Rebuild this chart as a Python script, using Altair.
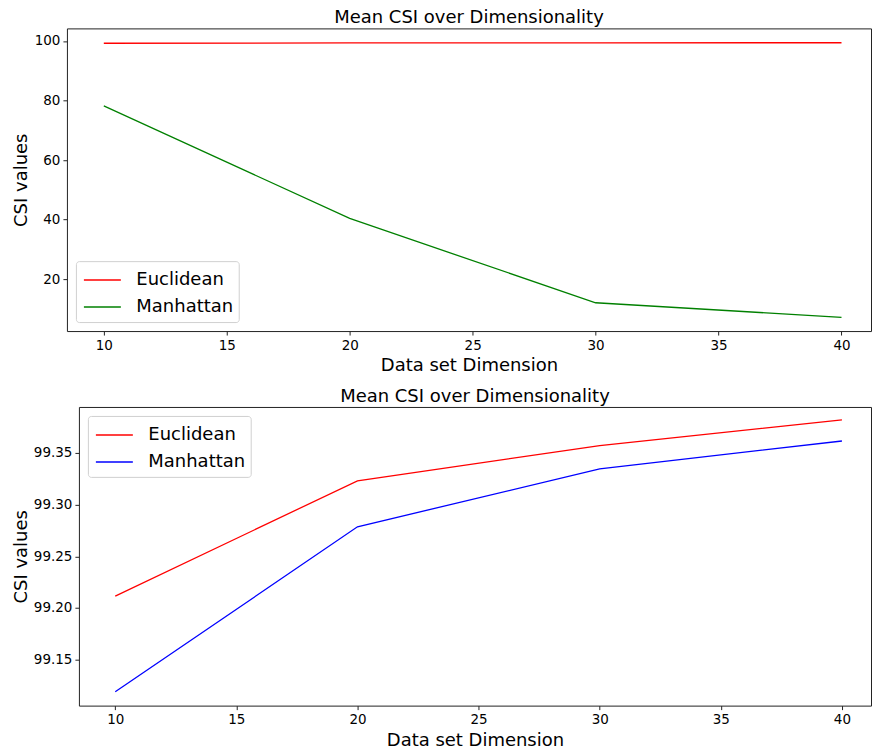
import altair as alt
import pandas as pd

dims = [10, 20, 30, 40]
series = ["Euclidean", "Manhattan"]

top_euclidean = [99.211, 99.323, 99.357, 99.382]
top_manhattan = [78.2, 40.4, 12.1, 7.2]

bot_euclidean = [99.2115, 99.323, 99.357, 99.382]
bot_manhattan = [99.119, 99.2785, 99.3345, 99.3615]

x_ticks = [10, 15, 20, 25, 30, 35, 40]
top_y_ticks = [20, 40, 60, 80, 100]
bot_y_ticks = [99.15, 99.20, 99.25, 99.30, 99.35]

title_text = "Mean CSI over Dimensionality"
x_title = "Data set Dimension"
y_title = "CSI values"

FONT = "DejaVu Sans"


def make_df(a, b):
    rows = []
    for d, v in zip(dims, a):
        rows.append({"dim": d, "value": v, "series": series[0]})
    for d, v in zip(dims, b):
        rows.append({"dim": d, "value": v, "series": series[1]})
    return pd.DataFrame(rows)


def panel(df, ydomain, yticks, yfmt, yext, colors, w, h, lx, ly):
    axis_common = dict(
        labelFontSize=13.5, labelFont=FONT, labelColor="#000",
        titleFontSize=18, titleFont=FONT, titleFontWeight="normal", titleColor="#000",
        tickSize=4, tickColor="#222", domain=False, grid=False, labelPadding=3,
    )
    return alt.Chart(df).mark_line(strokeWidth=1.3).encode(
        x=alt.X("dim:Q", scale=alt.Scale(domain=[8.5, 41.2], nice=False, zero=False),
                axis=alt.Axis(values=x_ticks, format="d", title=x_title, titlePadding=5,
                              labelFlush=False, **axis_common)),
        y=alt.Y("value:Q", scale=alt.Scale(domain=ydomain, nice=False, zero=False),
                axis=alt.Axis(values=yticks, format=yfmt, title=y_title, titlePadding=4,
                              minExtent=yext, maxExtent=yext, **axis_common)),
        color=alt.Color("series:N", scale=alt.Scale(domain=series, range=colors),
                        legend=alt.Legend(
                            title=None, orient="none", legendX=lx, legendY=ly,
                            symbolType="M-0.88,0H2.08", symbolSize=625, symbolStrokeWidth=1.5,
                            labelFontSize=18, labelFont=FONT, labelColor="#000",
                            labelOffset=28, rowPadding=4, padding=5.5,
                            strokeColor="#d0d0d0", fillColor="rgba(255,255,255,0.85)",
                            cornerRadius=3,
                        )),
        detail="series:N",
    ).properties(
        width=w, height=h,
        title=alt.TitleParams(title_text, fontSize=18, font=FONT, fontWeight="normal",
                              color="#000", anchor="middle", frame="group", offset=1),
    )


top = panel(make_df(top_euclidean, top_manhattan), [2.6, 104.2], top_y_ticks, "d", 32,
            ["red", "green"], 805, 303, 9, 233)
bottom = panel(make_df(bot_euclidean, bot_manhattan), [99.1056, 99.3944], bot_y_ticks, ".2f", 44,
               ["red", "blue"], 793, 299, 9, 9)

# invisible spacer that pushes the lower plot 12 px to the right, as in the reference
spacer = alt.Chart(pd.DataFrame({"s": [0]})).mark_point(opacity=0).encode(
    x=alt.value(0), y=alt.value(0)
).properties(width=12, height=299, view=alt.ViewBackground(strokeOpacity=0))

bottom_row = alt.hconcat(spacer, bottom, spacing=0, bounds="flush").resolve_scale(
    color="independent"
)

chart = alt.vconcat(top, bottom_row, spacing=12).resolve_scale(
    color="independent"
).configure_view(
    stroke="#222", strokeWidth=1
).properties(padding={"left": 12, "top": 8, "right": 0, "bottom": 0})

chart.save("out.html", embed_options={"renderer": "svg", "actions": False})
